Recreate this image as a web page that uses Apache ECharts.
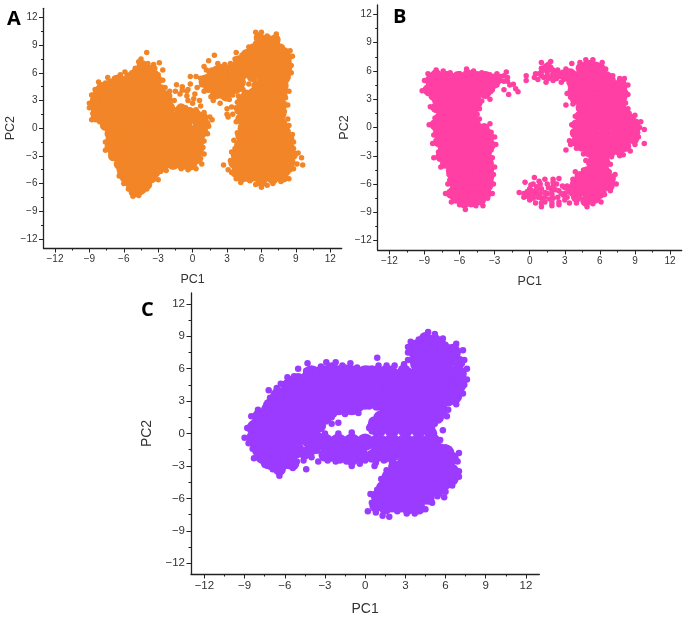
<!DOCTYPE html>
<html><head><meta charset="utf-8">
<style>html,body{margin:0;padding:0;background:#fff}#c{width:685px;height:617px}</style>
<script src="https://cdn.jsdelivr.net/npm/echarts@6/dist/echarts.min.js"></script>
</head><body><div id="c"></div>
<script>
const majorTicks=[-12,-9,-6,-3,0,3,6,9,12];
const minorTicks=[-10.5,-7.5,-4.5,-1.5,1.5,4.5,7.5,10.5];
const xName='PC1', yName='PC2';

const aRim=[[-9,2.7],[-8.8,3.6],[-8.5,4.2],[-8.2,5],[-7.6,4.9],[-7.4,5.5],[-6.8,5.4],[-6.3,5.8],[-5.9,6.1],[-5.3,6],[-5,6.5],[-4.7,7.2],[-4.5,7.5],[-4,8.2],[-3.9,7],[-3.4,6.9],[-2.9,7.1],[-3.3,6.5],[-2.6,6.3],[-3,5.8],[-2.6,5.2],[-2.4,4.4],[-2,4],[-1.4,4.7],[-0.9,4.5],[-0.5,4],[-0.2,4.8],[-0.2,5.6],[0.3,5.6],[0.7,5.4],[0.9,4.8],[0.4,4.4],[0.2,3.7],[0.6,3],[0.7,2.4],[1,1.7],[1.5,1.2],[1.7,0.9],[1.4,0.2],[1.3,-0.6],[1,-1.4],[0.9,-2.1],[1,-2.8],[0.7,-3.3],[0.8,-3.9],[0.3,-4.4],[-0.4,-4.5],[-1,-4.4],[-1.7,-4.2],[-2.3,-4.6],[-2.8,-4.7],[-3,-5.6],[-3.4,-5.4],[-3.9,-5.8],[-4,-6.6],[-4.3,-6.8],[-4.7,-7.3],[-5.2,-7.4],[-5.6,-6.6],[-6,-6],[-6.4,-5.2],[-6.4,-4.5],[-6.5,-3.8],[-7,-3.1],[-7.6,-2.4],[-7.6,-1.5],[-7.2,-0.4],[-7.5,0.1],[-8.1,0.7],[-8.8,0.9],[-8.7,1.6],[-9,2.2],
[-2,3.5],[-1.6,3],[-1.9,2.5],[-1.4,2],[-0.6,2.2],[-0.2,2],[0,2.7],[0.3,2],[0.6,1.5],[-1.1,3.7],[-0.5,3.5],[-1,1.6],[-1.8,1.6],[-0.4,3],[0.1,3.2],[-0.4,4.2],[-1.5,4],[-0.9,4.1],
[1,5.5],[1.2,6.3],[1,6.7],[1.4,7.3],[1.9,7.9],[2.2,7],[2.8,6.9],[3.3,7],[3.7,7.5],[3.8,8.2],[4.3,7.9],[4.9,8.8],[5.5,9.2],[5.5,10.4],[6,10.4],[6.5,10],[7.3,10.2],[7.3,9.2],[7.8,8.8],[8.3,8],[8.5,8.4],[8.7,7.8],[8.6,6.8],[8.6,6],[8.2,5.2],[8.4,4],[8.1,3.3],[8.3,2.5],[8,1.8],[8.3,1],[8,0.5],[8.4,0.3],[8.1,-0.3],[8.7,-0.7],[8.8,-1.5],[8.8,-2.2],[9.2,-2.7],[9.5,-3.2],[9.6,-4],[9.1,-3.9],[8.8,-4.4],[8.5,-4.5],[8.4,-5.5],[7.7,-5.8],[7,-6],[6.5,-6.2],[6,-6.4],[5.5,-6.1],[5,-5.7],[4.2,-5.9],[3.8,-5.5],[3.4,-4.8],[3.1,-4.5],[2.7,-4],[3.3,-3.5],[3.4,-2.6],[3.7,-2.2],[3.6,-1.3],[3.9,-0.5],[4.2,0.2],[3.8,0.7],[3.5,1.5],[3.8,2.2],[3.9,2.8],[4,3.5],[4.4,4.2],[4.9,4.8],[3.8,4],[3.5,3.6],[3.2,3.1],[2.4,2.7],[1.8,3],[1.6,3.4],[1,4],[0.8,4.7],[3,2.1],[3,1.5],[3.1,1.2],[3.4,2.3]];
const aMid=[[-8.5,2.7],[-8.3,3.6],[-7.9,4.4],[-7.1,4.8],[-6.3,5.2],[-5.5,5.5],[-4.9,6],[-4.4,6.8],[-3.8,6.3],[-3.4,5.8],[-3.1,5.2],[-2.8,4.2],[-2.3,3.5],[-2.2,3],[-2,2.2],[-1,2.1],[-0.4,1.7],[0.2,1.6],
[0.9,1.1],[1.1,0.4],[0.9,-0.4],[0.6,-1.4],[0.5,-2.4],[0.4,-3.3],[-0.2,-4],[-1,-3.9],[-1.8,-3.8],[-2.6,-4.2],[-3.3,-4.8],[-3.6,-5.4],[-4,-6.1],[-4.6,-6.7],[-5.1,-6.9],[-5.4,-6],[-5.9,-5.3],[-6,-4.3],[-6.2,-3.4],[-6.9,-2.6],[-7,-1.5],[-6.5,-0.5],[-6.8,0.2],[-7.4,1],[-8.4,1.2],[-8.4,2],[-7.6,0.3],[-7.2,-0.6],[-7.1,-1.1],[-7.2,-2],[-6.9,-3],[-6.4,-3.9],[-6.1,-4.8],
[1.3,5.3],[1.7,6],[2.6,6.4],[3.4,6.5],[4,7.3],[4.7,8],[5.3,8.6],[5.8,9.8],[6.5,9.6],[7.2,9.6],[7.6,8.6],[8.2,7.6],[8.2,6.5],[8.1,5.6],[7.9,4.6],[7.8,3.6],[7.8,2.5],[7.7,1.5],[7.8,0.4],[8.1,-0.4],[8.4,-1.2],[8.4,-2.1],[8.7,-2.9],[8.5,-3.7],[8.1,-4.6],[7.9,-5.3],[7,-5.5],[6,-5.8],[5,-5.3],[4.3,-5.3],[3.8,-4.8],[3.6,-3.8],[3.8,-2.8],[4.1,-1.8],[4.2,-0.8],[4.4,0],[4.2,1],[4.1,2],[4.3,3],[4.7,3.6],[5.3,3.8],[5.6,4.6],[3.6,5.7],[2.9,3.5],[2,3.7],[1.4,4.4],[1,5],[3.9,4.4],[5.2,5.6]];
const aCore=[[-4.3,6.2],[-6.5,5],[-5.5,5],[-4.5,5],[-3.5,5],[-7.9,4],[-6.9,4],[-5.9,4],[-4.9,4],[-3.9,4],[-3.1,4],[-8.3,3],[-7.3,3],[-6.3,3],[-5.3,3],[-4.3,3],[-3.3,3],[-2.6,3],[-8.2,2],[-7.2,2],[-6.2,2],[-5.2,2],[-4.2,2],[-3.2,2],[-2.4,2],[-7.5,1],[-6.5,1],[-5.5,1],[-4.5,1],[-3.5,1],[-2.5,1],[-1.5,1],[-0.5,1],[0.5,1],[-6.6,0],[-5.6,0],[-4.6,0],[-3.6,0],[-2.6,0],[-1.6,0],[-0.6,0],[0.6,0],[-6.3,-1],[-5.3,-1],[-4.3,-1],[-3.3,-1],[-2.3,-1],[-1.3,-1],[-0.3,-1],[0.4,-1],[-6.6,-2],[-5.6,-2],[-4.6,-2],[-3.6,-2],[-2.6,-2],[-1.6,-2],[-0.6,-2],[0.2,-2],[-6.2,-3],[-5.2,-3],[-4.2,-3],[-3.2,-3],[-2.2,-3],[-1.2,-3],[-0.2,-3],[0.1,-3],[-5.7,-4],[-4.7,-4],[-3.7,-4],[-2.7,-3.8],[-1.7,-3.7],[-0.7,-3.7],[-0.2,-3.7],[-5.7,-5],[-4.7,-5],[-3.7,-5],[-5.1,-6],[-4.6,-6],
[6.2,9],[7,9],[5.2,8],[6.2,8],[7.2,8],[7.9,8],[4.2,7],[5.2,7],[6.2,7],[7.2,7],[8,7],[2.2,6],[3.2,6],[4.2,6],[5.2,6],[6.2,6],[7.2,6],[7.9,6],[2,5],[3,5],[4,5],[6.2,5],[7.2,5],[7.6,5],[2.5,4],[3.3,4.5],[6,4],[7,4],[7.6,4],[4.8,3],[5.8,3],[6.8,3],[7.4,3],[4.6,2],[5.6,2],[6.6,2],[7.4,2],[4.6,1],[5.6,1],[6.6,1],[7.4,1],[4.8,0],[5.8,0],[6.8,0],[7.3,0],[4.5,-1],[5.5,-1],[6.5,-1],[7.5,-1],[8,-1],[4.3,-2],[5.3,-2],[6.3,-2],[7.3,-2],[8,-2],[4,-3],[5,-3],[6,-3],[7,-3],[8,-3],[4,-4],[5,-4],[6,-4],[7,-4],[7.8,-4],[4.6,-5],[5.6,-5],[6.6,-5],[7.6,-5]];

const bRim=[[-9.2,3.9],[-9,5],[-8.7,5.7],[-8,6.1],[-7.4,6],[-6.8,5.8],[-6,5.7],[-5.4,6.2],[-4.8,6],[-4.1,5.8],[-3.4,5.6],[-2.8,5.7],[-2,5.9],[-1.9,5.3],[-1.4,4.6],[-1.2,4.1],[-1,3.8],[-1.8,3.5],[-2.2,4],[-2.7,4.8],[-3.2,4],[-3.4,3],[-3.9,3.6],[-4.1,2.8],[-4.3,2],[-4.5,1.4],[-4.3,0.9],[-4.5,0.4],[-3.4,0.4],[-3.3,-0.5],[-3,-1],[-2.9,-1.8],[-3.3,-2.4],[-3.2,-3.2],[-3,-4.2],[-3.1,-5],[-3.1,-6],[-3.2,-7],[-3.6,-7.5],[-4,-8.3],[-4.6,-8.3],[-5.5,-8.7],[-6,-8.2],[-6.7,-7.9],[-7.2,-7],[-7,-6],[-6.9,-5],[-7.6,-4.2],[-8.2,-3.2],[-7.8,-2.6],[-8.3,-1.7],[-8.2,-0.8],[-8.6,0.3],[-8.1,1],[-8.5,2.2],[-8.1,2.8],[-8.7,3.6],
[-3.2,5],[-2.5,5.4],[-2.2,4.9],[-1.7,4.5],[-2.8,4.5],[-3.3,4.7],[-3.5,4],[-2.5,5],[-3,4.4],[-2.2,5.5],[-1.9,4.9],
[-0.3,5],[-0.3,5.5],[0.5,5.7],[1,6.3],[1,6.9],[1.8,7],[2.4,6.1],[3.1,6.2],[3.6,6.8],[4.3,6.9],[4.8,7.2],[5.4,7.2],[6.2,6.9],[6.5,6.2],[7.1,5.5],[7.7,5.2],[8.1,5.2],[8.4,4.5],[8.4,3.5],[8.2,2.6],[8.4,2],[8.5,1.5],[9,1.3],[9.5,0.6],[9.4,0],[9.8,-0.2],[9.3,-1],[9.8,-1.7],[9,-1.8],[8.6,-2.5],[8,-2.9],[7.7,-3],[7,-3.1],[6.9,-3.9],[6.8,-4.7],[7.3,-5],[7.4,-6],[6.9,-6.7],[6.4,-7.1],[6.1,-7.9],[5.4,-8.1],[4.9,-8.4],[4,-8],[3.4,-8],[2.5,-8.2],[1.9,-8.3],[1,-8.4],[0.5,-8],[0,-7.7],[-0.5,-7.4],[-0.9,-6.9],[-0.4,-5.8],[0.4,-5.3],[1.3,-5.5],[2,-5.5],[2.5,-5.4],[3.2,-6.2],[3.7,-5.5],[3.9,-4.7],[4.6,-4.5],[4.8,-3.5],[4.6,-2.8],[4,-2.2],[3.5,-1.8],[3.1,-2.4],[3.4,-1.4],[3.7,-0.5],[3.6,0.3],[3.9,1.2],[4.2,2],[3.7,2.5],[3.1,2.4],[3.5,3.2],[3.2,3.6],[3.5,4.4],[3.1,5.2],[2.7,4.8],[2,5],[1.4,4.8],[0.7,5.1],
[0,-6.5],[0.5,-7],[1,-6.5],[1.5,-7],[1,-7.5],[0.3,-6],[2,-6.2],[2.5,-6.7],[3,-7],[2,-7.5],[3,-7.7],[3.6,-7],[1.5,-6],[0.8,-5.7],[1.5,5.6],[2,5.7],[2.7,5.5],[1,5.5],[1.4,6.2],[3.3,5.5],
[-0.5,-7],[-0.2,-6.8],[0.2,-6.7],[0.6,-6.3],[0.7,-7.4],[1.3,-6.9],[1.3,-7.9],[1.9,-6.7],[1.9,-7.1],[2.3,-6],[2.4,-7.4],[2.8,-6.2],[2.9,-7.2],[0,-7.2],[0.3,-7.5],[1,5.9],[0.4,5.3],[1.8,6.4],[2.3,5.2],[2.9,5.1],[3.3,6],
[-0.2,-7.3],[0.2,-7.1],[0.9,-7],[1.3,-7.4],[1.7,-7.6],[1.6,-6.4],[0.6,-6.6],[0.1,-6.1],[2.2,-6.6],[2.7,-7],[3,-6.4],[2.5,-7.9],[3.2,-7.4],[1.9,-8],[1,-8],[0.9,-6],[2,-5.8],[1.2,5.3],[0.8,5.7],[1.6,5.2],[2.4,5.6],[2,6.1],[1.6,6.7],[2.9,5.5]];
const bMid=[[-8.7,4],[-8.5,5],[-8,5.6],[-7,5.4],[-6,5.2],[-5.3,5.6],[-4.5,5.4],[-3.5,5.2],[-2.9,5.2],[-3.8,3.6],[-4.5,2.6],[-4.9,1.4],[-4.9,0.8],[-3.9,-0.1],[-3.5,-1],[-3.4,-1.9],[-3.7,-2.6],[-3.6,-3.4],[-3.5,-4.4],[-3.5,-5.2],[-3.6,-6.2],[-3.7,-7],[-4.2,-7.7],[-5,-7.9],[-5.6,-8],[-6.3,-7.5],[-6.7,-7],[-6.6,-5.6],[-6.7,-4.6],[-7.2,-3.8],[-7.6,-3.1],[-7.4,-2.4],[-7.8,-1.5],[-7.8,-0.6],[-8.1,0.3],[-7.7,1],[-8,2.1],[-7.7,2.8],[-8.2,3.4],
[4.4,6.3],[5.2,6.6],[6,6.3],[6.1,5.7],[6.9,5],[7.8,4.7],[8,3.6],[7.8,2.6],[8,1.7],[8.6,0.9],[9,0.4],[9,-0.5],[8.9,-1.2],[8.2,-2],[7.6,-2.4],[6.9,-2.6],[6.4,-3.6],[6.4,-4.6],[6.9,-5.4],[6.8,-6.2],[6.1,-6.8],[5.6,-7.5],[4.8,-7.8],[4,-7.4],[3.5,-6.6],[3.9,-6],[4.3,-5.2],[4.9,-4.7],[5.3,-3.8],[5.1,-2.6],[4.5,-2],[4,-1.5],[3.9,-0.6],[4,0.3],[4.3,1.2],[4.4,2.1],[3.9,3],[3.7,3.9],[3.6,4.8],[3.5,5.7],[2.9,5.6],[2.2,5.5],[1.5,6.3]];
const bCore=[[-8.1,5.2],[-7.1,5.2],[-6.1,5.2],[-5.1,5.2],[-4.1,5.2],[-3.8,5.2],[-8.3,4.2],[-7.3,4.2],[-6.3,4.2],[-5.3,4.2],[-4.3,4.2],[-3.6,4.2],[-7.8,3.2],[-6.8,3.2],[-5.8,3.2],[-4.8,3.2],[-7.6,2.2],[-6.6,2.2],[-5.6,2.2],[-4.9,2.2],[-7.4,1.2],[-6.4,1.2],[-5.4,1.2],[-7.8,0.2],[-6.8,0.2],[-5.8,0.2],[-4.8,0.2],[-7.5,-0.8],[-6.5,-0.8],[-5.5,-0.8],[-4.5,-0.8],[-3.8,-0.8],[-7.3,-1.8],[-6.3,-1.8],[-5.3,-1.8],[-4.3,-1.8],[-3.6,-1.8],[-6.9,-2.8],[-5.9,-2.8],[-4.9,-2.8],[-3.9,-2.8],[-6.6,-3.8],[-5.6,-3.8],[-4.6,-3.8],[-3.7,-3.8],[-6.3,-4.8],[-5.3,-4.8],[-4.3,-4.8],[-3.7,-4.8],[-6.3,-5.8],[-5.3,-5.8],[-4.3,-5.8],[-3.7,-5.8],[-6.3,-6.8],[-5.3,-6.8],[-4.3,-6.8],[-5.7,-7.5],[-4.7,-7.5],
[4.8,6.2],[5.6,6.2],[3.9,5.2],[4.9,5.2],[5.9,5.2],[6.5,5.2],[4.2,4.2],[5.2,4.2],[6.2,4.2],[7.2,4.2],[7.7,4.2],[4.2,3.2],[5.2,3.2],[6.2,3.2],[7.2,3.2],[7.7,3.2],[4.8,2.2],[5.8,2.2],[6.8,2.2],[7.6,2.2],[4.6,1.2],[5.6,1.2],[6.6,1.2],[7.6,1.2],[4.4,0.2],[5.4,0.2],[6.4,0.2],[7.4,0.2],[8.4,0.2],[4.4,-0.8],[5.4,-0.8],[6.4,-0.8],[7.4,-0.8],[8.4,-0.8],[5,-1.8],[6,-1.8],[7,-1.8],[8,-1.8],[5.6,-2.8],[6.3,-2.8],[5.5,-3.8],[6.2,-3.8],[5.3,-4.8],[6.1,-4.8],[4.5,-5.8],[5.5,-5.8],[6.6,-5.8],[4,-6.8],[5,-6.8],[5.9,-6.8]];

const cRim=[[-9,-0.4],[-8.8,0.5],[-8.5,1.6],[-8,2.2],[-7.3,2.6],[-7.1,3.3],[-7.2,4],[-6.6,4.2],[-6.3,4.6],[-5.8,5.2],[-5.3,5.3],[-5,6],[-4.4,5.8],[-4.3,6.5],[-3.7,5.8],[-3.3,6.2],[-2.9,6.6],[-2.2,6.6],[-1.7,6.3],[-1.1,6.5],[-0.6,6.1],[0.2,6],[0.9,7],[1,6.3],[1.6,6.3],[2.2,6.3],[2.9,6.4],[3.2,6.8],[3.2,7.5],[3.2,8],[3.4,8.5],[4,8.7],[4.7,9.4],[5.2,9.2],[5.8,8.8],[6,8.2],[6.8,8.3],[6.6,7.8],[7.3,7.7],[7.4,6.8],[7.6,6],[7.6,5],[7.4,4.5],[7.3,3.7],[6.7,3.1],[6.8,2.7],[6.2,2.2],[6.1,1.6],[5.6,1.4],[5.2,0.9],[5,0.4],[5.8,0.3],[5.6,-0.6],[6,-1.3],[6.2,-1.5],[7,-1.8],[6.9,-2.6],[7,-3.5],[7,-4],[6.5,-4.8],[6,-5.4],[5.9,-5.9],[5.4,-5.8],[5,-6.4],[4.5,-7],[3.7,-7.4],[3.1,-7.4],[2.7,-7],[2.4,-7.2],[1.8,-7.7],[1.3,-7.6],[0.8,-7.3],[0.2,-7.2],[0.5,-6.4],[0.4,-5.6],[0.9,-5.2],[1.2,-4.2],[1.6,-3.4],[2,-3.2],[2,-2.7],[1.4,-2.5],[0.8,-2.7],[0.7,-3],[0,-2.5],[-0.4,-2.8],[-1,-3],[-1.4,-2.6],[-2.2,-2.6],[-2.8,-2.5],[-3.5,-2.6],[-4,-2.2],[-4.4,-3.3],[-4.6,-2.5],[-5,-1.6],[-5.1,-2.6],[-5.4,-3.2],[-6.4,-3.9],[-6.9,-3.3],[-7.5,-2.9],[-8.3,-2.3],[-8.4,-1.4],[-8.7,-0.9],
[-3.3,0.8],[-2.8,1.4],[-2.5,1.5],[-1.5,1.8],[-0.5,1.9],[-0.4,2.8],[0.3,2.5],[0.3,0.5],[-3,0],[-2,0],[-1,0.1],[0.5,0.2],[-2.5,0.9],[-2,1],[-3.8,-0.2],[-4.2,-1.2],[-3.6,-1.6]];
const cMid=[[-8.4,-0.4],[-8.2,0.6],[-7.8,1.5],[-7.3,2.2],[-6.6,2.9],[-6.6,3.5],[-5.8,4.4],[-5,5],[-4.3,5.2],[-3.5,5.6],[-2.5,6],[-1.5,5.8],[-0.5,5.5],[0.3,5.4],[0.9,5.7],[1.5,5.7],[1,5],[1.2,4.4],[0.9,3.8],[0.5,3],[0,2.8],[-0.5,2.6],[-1.5,2.4],[-2.5,2],[-3,1.4],[-3.4,0.7],[-3.9,0],
[1.5,3.4],[2.2,3.6],[2.5,4.5],[3,5.4],[1.1,1.5],[0.7,1],[0.6,0.6],[1.9,5.7],[2.9,5.8],[2.7,5],[3.2,5.5],[1.7,4.7],[1.8,4],[1.3,3],[0.9,2.7],[1.5,2.4],[0.3,3.7],[0.9,4.6],[1.9,3],[3.1,4.5],[2.1,5.5],
[3.8,6.8],[3.7,7.5],[3.8,8.1],[4.5,8.8],[5.2,8.6],[5.8,8],[6.4,7.2],[7,6.6],[7.1,5.5],[7.1,4.6],[6.8,3.9],[6.2,3.1],[5.7,2.2],[5.4,1.5],[4.8,0.8],[4.9,0],[5,-0.5],[5.6,-1.5],[6.5,-2.3],[6.5,-3.4],[6.5,-4.2],[6,-4.6],[5.4,-5.3],[4.7,-6],[4,-6.9],[3.2,-6.9],[2.3,-6.7],[1.5,-6.9],[0.8,-6.7],[0.9,-5.8],[1.3,-5],[1.7,-4],[2.2,-3.1],[1.5,-2.1],[0.5,-2.1],[-0.2,-2.1],[-1,-2.4],[-1.9,-2.2],[-3,-2],[-3.5,-1],[-3.6,-0.4],[-4,-1.4],[-4.5,-1.8],[-5.4,-2.8],[-6.4,-3.3],[-7,-2.8],[-7.7,-2.2],[-7.9,-1.2],[-8.3,-0.5]];
const cCore=[[-4,5.5],[-3,5.5],[-2,5.5],[-1,5.5],[0,5.5],[0.5,5.5],[4,5.5],[5,5.5],[6,5.5],[6.9,5.5],[-5.5,4.5],[-4.5,4.5],[-3.5,4.5],[-2.5,4.5],[-1.5,4.5],[-0.5,4.5],[0.5,4.5],[3.5,4.5],[4.5,4.5],[5.5,4.5],[6.5,4.5],[6.9,4.5],[-6.4,3.5],[-5.4,3.5],[-4.4,3.5],[-3.4,3.5],[-2.4,3.5],[-1.4,3.5],[-0.4,3.5],[0.2,3.5],[3,3.5],[4,3.5],[5,3.5],[6,3.5],[6.6,3.5],[-7,2.5],[-6,2.5],[-5,2.5],[-4,2.5],[-3,2.5],[-2,2.5],[-1,2.5],[2.2,2.5],[3.2,2.5],[4.2,2.5],[5.2,2.5],[-7.8,1.5],[-6.8,1.5],[-5.8,1.5],[-4.8,1.5],[-3.8,1.5],[1.5,1.5],[2.5,1.5],[3.5,1.5],[4.5,1.5],[-8.2,0.5],[-7.2,0.5],[-6.2,0.5],[-5.2,0.5],[-4.2,0.5],[1,0.5],[2,0.5],[3,0.5],[4,0.5],[-8.2,-0.5],[-7.2,-0.5],[-6.2,-0.5],[-5.2,-0.5],[-4.2,-0.5],[-3,-0.8],[-2,-0.8],[-1,-0.8],[0,-0.8],[1,-0.8],[2,-0.8],[3,-0.8],[4,-0.8],[5,-0.8],[-7.8,-1.5],[-6.8,-1.5],[-5.8,-1.5],[-5.2,-1.5],[-2.5,-1.8],[-1.5,-1.8],[-0.5,-1.8],[1,-1.8],[2,-1.8],[3,-1.8],[4,-1.8],[5,-1.8],[6,-1.8],[-7.2,-2.5],[-6.2,-2.5],[-5.7,-2.5],[3,-2.8],[4,-2.8],[5,-2.8],[6,-2.8],[2.2,-3.8],[3.2,-3.8],[4.2,-3.8],[5.2,-3.8],[6.1,-3.8],[1.8,-4.8],[2.8,-4.8],[3.8,-4.8],[4.8,-4.8],[5.5,-4.8],[1.3,-5.8],[2.3,-5.8],[3.3,-5.8],[4.3,-5.8],[2,-6.5],[3,-6.5],[3.8,-6.5],[4,6.5],[5,6.5],[6,6.5],[4,7.5],[5,7.5],[6,7.5],[6.5,7.5],[4.5,8.3],[5,8.3]];

const panels=[
 {tag:'A',color:'#F28527',rim:aRim,mid:aMid,core:aCore,rimS:5.5,midS:11,coreS:15,box:[43.5,8.3,341.7,248],font:10,nameFont:12.5,nameX:25,nameY:24,tagPos:[7,9]},
 {tag:'B',color:'#FF3FA3',rim:bRim,mid:bMid,core:bCore,rimS:5.5,midS:11,coreS:15,box:[377.7,5,681.7,250],font:10,nameFont:12.5,nameX:25,nameY:15,tagPos:[393,7]},
 {tag:'C',color:'#9B3BFF',rim:cRim,mid:cMid,core:cCore,rimS:6.5,midS:13,coreS:17.5,box:[191,293,539.3,574],font:11.5,nameFont:14,nameX:28,nameY:16,tagPos:[141,300]}
];
const fam='"Liberation Sans",Arial,sans-serif';
const lab=v=>String(v).replace('-','\u2212');
const grid=[],xAxis=[],yAxis=[],series=[],graphic=[];
panels.forEach((p,i)=>{
  const [l,t,r,b]=p.box;
  grid.push({left:l,top:t,width:r-l,height:b-t});
  const common=(name,gap)=>({type:'value',min:-13,max:13,gridIndex:i,splitLine:{show:false},name,nameLocation:'middle',nameGap:gap,
    nameTextStyle:{fontFamily:fam,fontSize:p.nameFont,color:'#333'},
    axisLine:{show:true,onZero:false,lineStyle:{color:'#222',width:1.3}},
    axisTick:{show:true,customValues:majorTicks,length:4.5,lineStyle:{color:'#222',width:1}},
    axisLabel:{show:true,customValues:majorTicks,formatter:lab,fontFamily:fam,fontSize:p.font,color:'#333',margin:6,hideOverlap:false}});
  const minor=()=>({type:'value',min:-13,max:13,gridIndex:i,splitLine:{show:false},
    axisLine:{show:false,onZero:false},axisTick:{show:true,customValues:minorTicks,length:2.5,lineStyle:{color:'#222',width:1}},axisLabel:{show:false}});
  xAxis.push(Object.assign(common(xName,p.nameX),{position:'bottom'}));
  xAxis.push(Object.assign(minor(),{position:'bottom'}));
  yAxis.push(Object.assign(common(yName,p.nameY),{position:'left'}));
  yAxis.push(Object.assign(minor(),{position:'left'}));
  [[p.core,p.coreS],[p.mid,p.midS],[p.rim,p.rimS]].forEach(([d,s])=>series.push({type:'scatter',xAxisIndex:i*2,yAxisIndex:i*2,data:d,symbolSize:s,itemStyle:{color:p.color,opacity:1},silent:true,animation:false}));
  graphic.push({type:'text',left:p.tagPos[0],top:p.tagPos[1],style:{text:p.tag,fontFamily:'"Open Sans",sans-serif',fontWeight:'bold',fontSize:20,fill:'#000'}});
});
echarts.init(document.getElementById('c'),null,{renderer:'canvas'}).setOption({animation:false,backgroundColor:'#fff',grid,xAxis,yAxis,series,graphic});
</script></body></html>
